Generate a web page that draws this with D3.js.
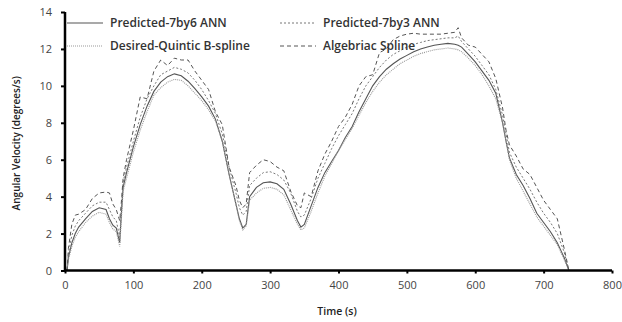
<!DOCTYPE html>
<html>
<head>
<meta charset="utf-8">
<script src="https://cdn.jsdelivr.net/npm/d3@7"></script>
<style>
  body { margin: 0; background: #fff; }
  text { font-family: "Open Sans", "DejaVu Sans", sans-serif; }
</style>
</head>
<body>
<svg></svg>
<script>
// time samples (s)
const time = [3, 5, 10, 15, 20, 30, 40, 50, 60, 65, 70, 75, 80, 82, 85, 90, 100, 110, 120, 130,
  140, 150, 160, 170, 180, 190, 200, 210, 220, 230, 240, 250, 255, 260, 265, 270, 280, 290, 300, 310,
  320, 330, 340, 345, 350, 360, 370, 380, 390, 400, 410, 420, 430, 440, 450, 460, 470, 480, 490, 500,
  510, 520, 530, 540, 550, 560, 570, 575, 580, 590, 600, 610, 620, 630, 640, 645, 650, 660, 670, 680,
  690, 700, 710, 720, 730, 737];

const ann7by6 = [0, 0.7, 1.5, 2.0, 2.35, 2.8, 3.2, 3.4, 3.3, 2.8, 2.45, 2.3, 1.5, 2.8, 4.5, 5.3, 6.7, 7.9, 8.9, 9.7,
  10.2, 10.5, 10.65, 10.55, 10.25, 9.85, 9.4, 8.9, 8.2, 7.0, 5.2, 3.6, 2.8, 2.3, 2.5, 4.0, 4.5, 4.75, 4.8, 4.7,
  4.4, 3.6, 2.7, 2.35, 2.5, 3.5, 4.5, 5.3, 5.9, 6.5, 7.2, 7.8, 8.6, 9.3, 10.0, 10.5, 10.9, 11.2, 11.45, 11.65,
  11.85, 12.0, 12.1, 12.2, 12.25, 12.3, 12.25, 12.2, 12.1, 11.7, 11.3, 10.8, 10.3, 9.6, 8.0, 7.0, 6.1, 5.2, 4.6, 3.9,
  3.1, 2.6, 2.1, 1.5, 0.7, 0];

const ann7by3 = [0, 0.9, 1.9, 2.4, 2.7, 3.1, 3.5, 3.7, 3.7, 3.3, 2.9, 2.7, 1.8, 3.0, 4.8, 5.6, 7.0, 8.3, 9.3, 10.0,
  10.6, 10.8, 11.0, 10.9, 10.7, 10.3, 9.8, 9.2, 8.5, 7.4, 5.6, 4.2, 3.4, 3.0, 3.2, 4.6, 5.0, 5.3, 5.35, 5.2,
  4.9, 4.2, 3.2, 2.9, 3.0, 3.9, 5.0, 5.8, 6.6, 7.3, 7.9, 8.5, 9.3, 10.0, 10.5, 11.0, 11.4, 11.7, 11.9, 12.1,
  12.25, 12.35, 12.45, 12.5, 12.55, 12.6, 12.6, 12.7, 12.4, 12.0, 11.6, 11.1, 10.6, 9.8, 8.4, 7.4, 6.4, 5.6, 5.0, 4.4,
  3.7, 3.1, 2.6, 2.0, 1.0, 0];

const quintic = [0, 0.6, 1.3, 1.8, 2.1, 2.6, 2.95, 3.15, 3.05, 2.6, 2.25, 2.1, 1.3, 2.5, 4.3, 5.0, 6.4, 7.6, 8.6, 9.5,
  9.9, 10.2, 10.35, 10.3, 10.0, 9.6, 9.2, 8.7, 8.1, 7.0, 5.2, 3.6, 2.7, 2.2, 2.4, 3.8, 4.2, 4.45, 4.5, 4.4,
  4.1, 3.3, 2.5, 2.2, 2.3, 3.2, 4.2, 5.1, 5.8, 6.5, 7.1, 7.7, 8.4, 9.1, 9.7, 10.2, 10.6, 10.9, 11.2, 11.4,
  11.6, 11.75, 11.85, 11.95, 12.0, 12.05, 12.0, 11.95, 11.85, 11.5, 11.1, 10.6, 10.0, 9.3, 8.0, 7.0, 6.0, 5.0, 4.3, 3.6,
  2.9, 2.4, 1.9, 1.4, 0.6, 0];

const algebraic = [0, 1.2, 2.5, 3.0, 3.05, 3.3, 3.9, 4.2, 4.25, 4.2, 3.6, 3.3, 2.7, 3.5, 5.0, 6.0, 7.6, 9.4, 9.3, 10.8,
  11.4, 11.1, 11.5, 11.4, 11.4, 10.8, 10.3, 9.8, 8.6, 7.9, 5.6, 4.6, 3.8, 3.4, 3.6, 5.3, 5.7, 6.0, 5.9, 5.6,
  5.4, 4.3, 3.5, 3.4, 4.2, 4.0, 5.4, 6.3, 7.0, 7.8, 8.3, 9.0, 10.0, 10.5, 10.6, 11.8, 12.0, 12.5, 12.7, 12.8,
  12.85, 12.8, 12.8, 12.8, 12.8, 12.85, 12.9, 13.15, 12.6, 12.2, 12.1, 11.7, 11.3, 10.4, 8.8, 7.6, 6.8, 6.2, 5.5, 5.2,
  4.5, 3.8, 3.3, 2.8, 1.2, 0];

const seriesNames = ["Predicted-7by6 ANN", "Predicted-7by3 ANN", "Desired-Quintic B-spline", "Algebriac Spline"];
const xTicks = [0, 100, 200, 300, 400, 500, 600, 700, 800];
const yTicks = [0, 2, 4, 6, 8, 10, 12, 14];

const svgWidth = 622;
const svgHeight = 322;
const margin = {top: 12, right: 10, bottom: 52, left: 65};
const width = 612 - margin.left;
const height = 270.5 - margin.top;

const svg = d3.select("svg")
    .attr("width", svgWidth)
    .attr("height", svgHeight);

const g = svg.append("g")
    .attr("transform", "translate(" + margin.left + "," + margin.top + ")");

const x = d3.scaleLinear().domain([0, 800]).range([0, width]);
const y = d3.scaleLinear().domain([0, 14]).range([height, 0]);

// styles per series, same order as seriesNames
const styles = [
  {data: ann7by6, color: "#555", dash: null, w: 1.1},
  {data: ann7by3, color: "#777", dash: "2,2", w: 1},
  {data: quintic, color: "#999", dash: "1,1", w: 1.1},
  {data: algebraic, color: "#555", dash: "4,3", w: 1}
];

const line = d3.line()
    .x((d, i) => x(time[i]))
    .y(d => y(d));

styles.forEach(s => {
  g.append("path")
      .datum(s.data)
      .attr("fill", "none")
      .attr("stroke", s.color)
      .attr("stroke-width", s.w)
      .attr("stroke-dasharray", s.dash)
      .attr("d", line);
});

// axes
const xAxis = g.append("g")
    .attr("transform", "translate(0," + height + ")")
    .call(d3.axisBottom(x).tickValues(xTicks).tickSize(3).tickPadding(8));

const yAxis = g.append("g")
    .call(d3.axisLeft(y).tickValues(yTicks).tickSize(4).tickPadding(9));

[xAxis, yAxis].forEach(a => {
  a.select(".domain").attr("stroke", "#000").attr("stroke-width", 2.5);
  a.selectAll(".tick line").attr("stroke", "#000").attr("stroke-width", 2);
  a.selectAll(".tick text")
      .attr("fill", "#444")
      .style("font-size", "11px");
});
xAxis.select(".domain").attr("d", "M0,0H" + width);
yAxis.select(".domain").attr("d", "M0," + height + "V0");

// axis titles
svg.append("text")
    .attr("transform", "translate(20," + (margin.top + height / 2 + 2) + ") rotate(-90)")
    .attr("text-anchor", "middle")
    .attr("fill", "#222")
    .style("font-size", "10px")
    .style("font-weight", "600")
    .text("Angular Velocity (degrees/s)");

svg.append("text")
    .attr("x", 337)
    .attr("y", 315)
    .attr("text-anchor", "middle")
    .attr("fill", "#222")
    .style("font-size", "10.5px")
    .style("font-weight", "600")
    .text("Time (s)");

// legend, two columns
const legendPos = [[67, 23], [280, 23], [67, 46], [280, 46]];
seriesNames.forEach((name, i) => {
  const [lx, ly] = legendPos[i];
  const s = styles[i === 1 ? 1 : i === 2 ? 2 : i];
  svg.append("line")
      .attr("x1", lx).attr("x2", lx + 36)
      .attr("y1", ly).attr("y2", ly)
      .attr("stroke", s.color)
      .attr("stroke-width", s.w)
      .attr("stroke-dasharray", s.dash);
  svg.append("text")
      .attr("x", lx + 43)
      .attr("y", ly + 4)
      .attr("fill", "#333")
      .style("font-size", "12px")
      .style("font-weight", "600")
      .text(name);
});
</script>
</body>
</html>
